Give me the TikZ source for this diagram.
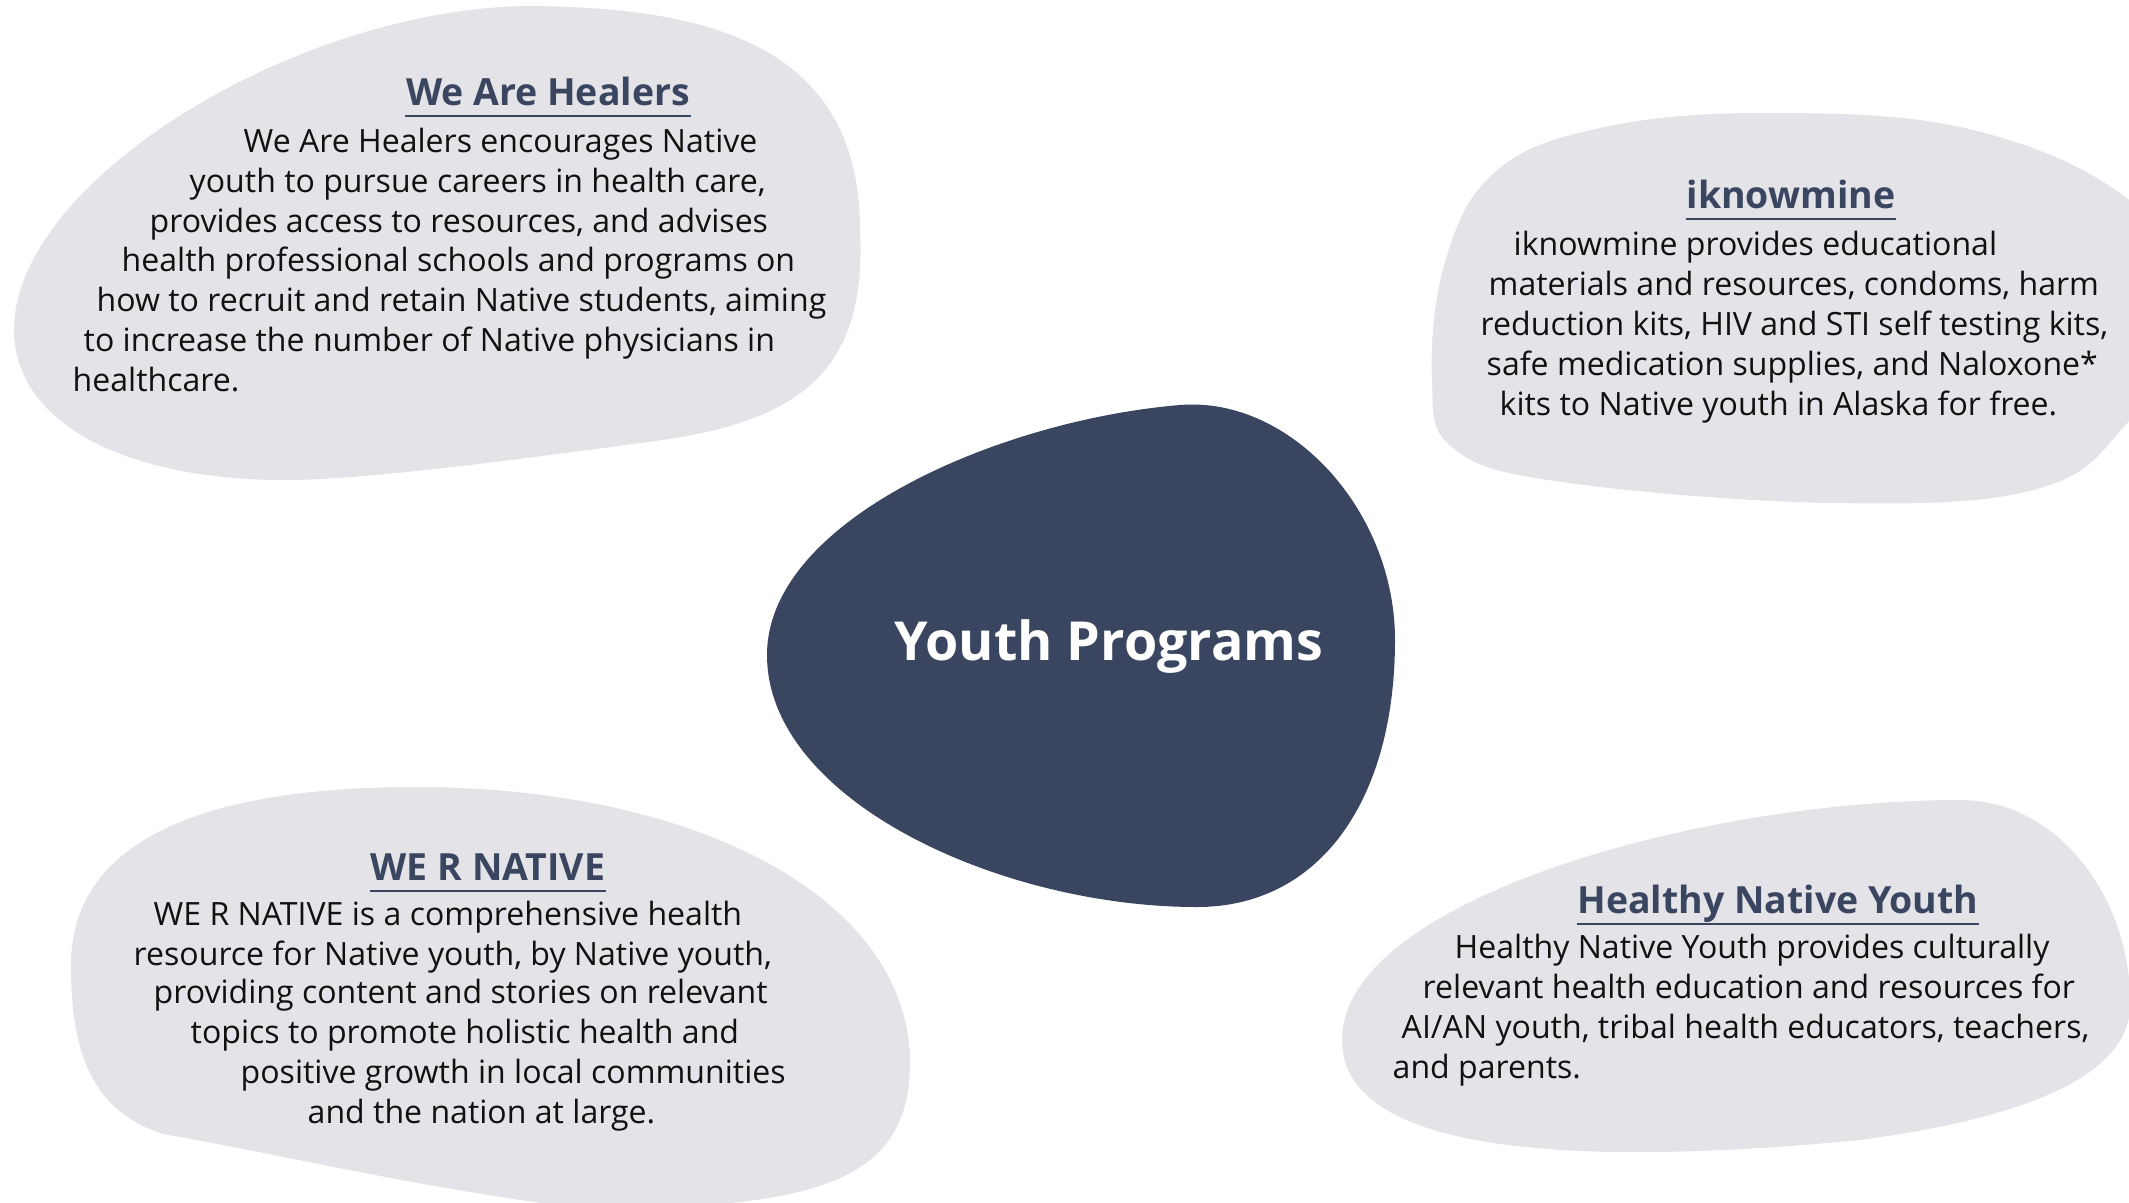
\documentclass[tikz,border=0pt]{standalone}
\usepackage{fontspec}
\setmainfont{Open Sans}
\definecolor{navy}{HTML}{3A4560}
\definecolor{blobgrey}{HTML}{E4E4E8}
\definecolor{bodytext}{HTML}{111111}
\tikzset{
  blob/.style={fill=blobgrey, draw=none},
  hub/.style={fill=navy, draw=none},
  bodyline/.style={anchor=base west, inner sep=0pt, text=bodytext, font=\fontsize{9.12}{11}\selectfont},
  titleline/.style={anchor=base, inner sep=0pt, text=navy, font=\fontsize{10.65}{12}\selectfont\bfseries},
  uline/.style={draw=navy, line width=0.6pt},
  hubtext/.style={anchor=base, inner sep=0pt, text=white, font=\fontsize{15.3}{18}\selectfont\bfseries}
}
\begin{document}
\begin{tikzpicture}[x=0.01cm, y=-0.01cm]
\useasboundingbox (0,0) rectangle (2129,1202);
\begin{scope}
\clip (0,0) rectangle (2129,1202);
% top-left blob
\path[blob] (533,6) .. controls (700,8) and (860,40) .. (860,230)
  .. controls (868,380) and (790,425) .. (640,443)
  .. controls (500,462) and (360,480) .. (285,480)
  .. controls (120,480) and (14,420) .. (14,330)
  .. controls (14,180) and (300,6) .. (533,6) -- cycle;
% top-right blob
\path[blob] plot[smooth cycle, tension=0.65] coordinates {
 (1765,113) (1969,129) (2129,200) (2200,310) (2129,421) (2037,489) (1833,503) (1562,482) (1453,448) (1432,380) (1445,262) (1495,172) (1600,128)};
% bottom-left blob
\path[blob] (415,787) .. controls (700,787) and (910,900) .. (910,1063)
  .. controls (910,1190) and (800,1205) .. (600,1210)
  .. controls (450,1195) and (260,1150) .. (163,1134)
  .. controls (90,1110) and (71,1050) .. (71,965)
  .. controls (71,820) and (250,787) .. (415,787) -- cycle;
% bottom-right blob
\path[blob] (1342,1040) .. controls (1342,900) and (1700,800) .. (1960,800)
  .. controls (2060,800) and (2130,900) .. (2130,1000)
  .. controls (2135,1080) and (2010,1120) .. (1860,1140)
  .. controls (1600,1165) and (1342,1160) .. (1342,1040) -- cycle;
\end{scope}
% central hub blob
\path[hub] (1180,405) .. controls (1290,396) and (1395,510) .. (1395,640)
  .. controls (1395,800) and (1320,907) .. (1197,907)
  .. controls (1000,907) and (767,800) .. (767,655)
  .. controls (767,520) and (1000,420) .. (1180,405) -- cycle;

\node[hubtext] (hub) at (1109,660) {Youth Programs};

% We Are Healers
\node[titleline] (t1) at (548,105) {We Are Healers};
\draw[uline] ([yshift=-3pt]t1.base west) -- ([yshift=-3pt]t1.base east);
\node[bodyline] (a1) at (243,152) {We Are Healers encourages Native};
\node[bodyline] (a2) at (189,192) {youth to pursue careers in health care,};
\node[bodyline] (a3) at (149,232) {provides access to resources, and advises};
\node[bodyline] (a4) at (121,271) {health professional schools and programs on};
\node[bodyline] (a5) at (96,311) {how to recruit and retain Native students, aiming};
\node[bodyline] (a6) at (83,351) {to increase the number of Native physicians in};
\node[bodyline] (a7) at (72,391) {healthcare.};

% iknowmine
\node[titleline] (t2) at (1791,208) {iknowmine};
\draw[uline] ([yshift=-3pt]t2.base west) -- ([yshift=-3pt]t2.base east);
\node[bodyline] (b1) at (1513,255) {iknowmine provides educational};
\node[bodyline] (b2) at (1488,295) {materials and resources, condoms, harm};
\node[bodyline] (b3) at (1480,335) {reduction kits, HIV and STI self testing kits,};
\node[bodyline] (b4) at (1486,375) {safe medication supplies, and Naloxone*};
\node[bodyline] (b5) at (1499,415) {kits to Native youth in Alaska for free.};

% WE R NATIVE
\node[titleline] (t3) at (488,880) {WE R NATIVE};
\draw[uline] ([yshift=-3pt]t3.base west) -- ([yshift=-3pt]t3.base east);
\node[bodyline] (c1) at (153,925) {WE R NATIVE is a comprehensive health};
\node[bodyline] (c2) at (133,965) {resource for Native youth, by Native youth,};
\node[bodyline] (c3) at (153,1003) {providing content and stories on relevant};
\node[bodyline] (c4) at (190,1043) {topics to promote holistic health and};
\node[bodyline] (c5) at (240,1083) {positive growth in local communities};
\node[bodyline] (c6) at (307,1123) {and the nation at large.};

% Healthy Native Youth
\node[titleline] (t4) at (1778,913) {Healthy Native Youth};
\draw[uline] ([yshift=-3pt]t4.base west) -- ([yshift=-3pt]t4.base east);
\node[bodyline] (d1) at (1454,958) {Healthy Native Youth provides culturally};
\node[bodyline] (d2) at (1422,998) {relevant health education and resources for};
\node[bodyline] (d3) at (1401,1038) {AI/AN youth, tribal health educators, teachers,};
\node[bodyline] (d4) at (1392,1078) {and parents.};
\end{tikzpicture}
\end{document}
